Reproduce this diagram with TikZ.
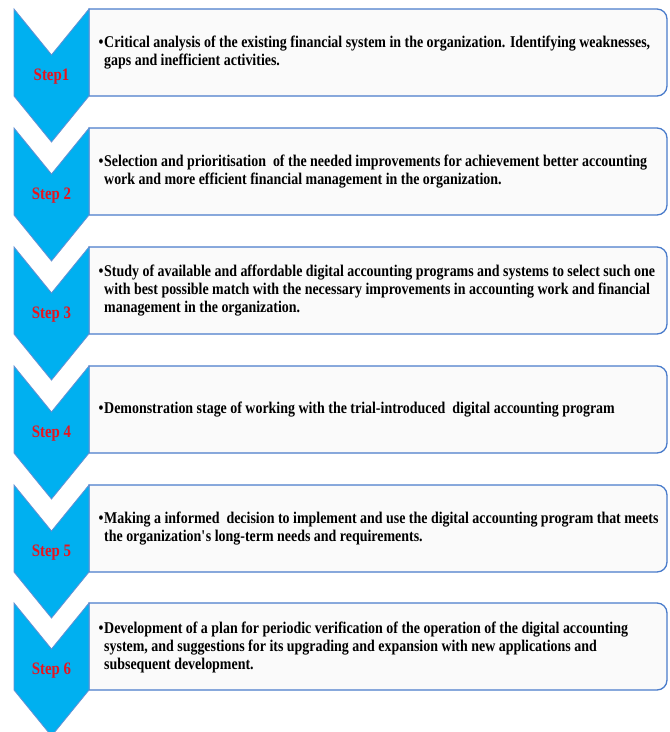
\documentclass[tikz,border=0pt]{standalone}
\usepackage{fontspec}
\setmainfont{Liberation Serif}[FakeStretch=0.85]

\definecolor{chevblue}{HTML}{00B0F0}
\definecolor{edgeblue}{HTML}{4A7CCB}
\definecolor{boxfill}{HTML}{FAFAFA}
\definecolor{stepred}{HTML}{E8141E}

\tikzset{
  stepchevron/.style={fill=chevblue,draw=edgeblue!85,line width=0.8pt,line join=miter},
  stepbox/.style={fill=boxfill,draw=edgeblue,line width=1.3pt},
  steplabel/.style={text=stepred,inner sep=0pt,font=\fontsize{17.5}{18}\selectfont\bfseries},
  steptext/.style={anchor=west,inner sep=0pt,align=left,font=\fontsize{16.4}{18}\selectfont\bfseries}
}
\newcommand{\bul}{\llap{\textbullet\hspace{0.6pt}}}

\begin{document}
\begin{tikzpicture}[x=1pt,y=1pt]
   \useasboundingbox (0,0) rectangle (670,-732);

   \draw[stepbox] (89,-9) -- (89,-96) -- (657,-96) arc(-90:0:10) -- (667,-19) arc(0:90:10) -- cycle;
   \draw[stepchevron] (14,-9) -- (51.5,-55) -- (89,-9) -- (89,-96) -- (51.5,-142) -- (14,-96) -- cycle;

   \draw[stepbox] (89,-128) -- (89,-215) -- (657,-215) arc(-90:0:10) -- (667,-138) arc(0:90:10) -- cycle;
   \draw[stepchevron] (14,-128) -- (51.5,-174) -- (89,-128) -- (89,-215) -- (51.5,-261) -- (14,-215) -- cycle;

   \draw[stepbox] (89,-247) -- (89,-334) -- (657,-334) arc(-90:0:10) -- (667,-257) arc(0:90:10) -- cycle;
   \draw[stepchevron] (14,-247) -- (51.5,-293) -- (89,-247) -- (89,-334) -- (51.5,-380) -- (14,-334) -- cycle;

   \draw[stepbox] (89,-366) -- (89,-453) -- (657,-453) arc(-90:0:10) -- (667,-376) arc(0:90:10) -- cycle;
   \draw[stepchevron] (14,-366) -- (51.5,-412) -- (89,-366) -- (89,-453) -- (51.5,-499) -- (14,-453) -- cycle;

   \draw[stepbox] (89,-485) -- (89,-572) -- (657,-572) arc(-90:0:10) -- (667,-495) arc(0:90:10) -- cycle;
   \draw[stepchevron] (14,-485) -- (51.5,-531) -- (89,-485) -- (89,-572) -- (51.5,-618) -- (14,-572) -- cycle;

   \draw[stepbox] (89,-603) -- (89,-690) -- (657,-690) arc(-90:0:10) -- (667,-613) arc(0:90:10) -- cycle;
   \draw[stepchevron] (14,-603) -- (51.5,-649) -- (89,-603) -- (89,-690) -- (51.5,-736) -- (14,-690) -- cycle;

   \node[steplabel] (s1) at (51.5,-77)  {Step1};
   \node[steplabel] (s2) at (51.5,-196) {Step 2};
   \node[steplabel] (s3) at (51.5,-315) {Step 3};
   \node[steplabel] (s4) at (51.5,-434) {Step 4};
   \node[steplabel] (s5) at (51.5,-553) {Step 5};
   \node[steplabel] (s6) at (51.5,-671) {Step 6};

   \node[steptext] (d1) at (104,-53) {\bul Critical analysis of the existing financial system in the organization. Identifying weaknesses,\\
      gaps and inefficient activities.};
   \node[steptext] (d2) at (104,-172) {\bul Selection and prioritisation \ of the needed improvements for achievement better accounting\\
      work and more efficient financial management in the organization.};
   \node[steptext] (d3) at (104,-291) {\bul Study of available and affordable digital accounting programs and systems to select such one\\
      with best possible match with the necessary improvements in accounting work and financial\\
      management in the organization.};
   \node[steptext] (d4) at (104,-410) {\bul Demonstration stage of working with the trial-introduced \ digital accounting program};
   \node[steptext] (d5) at (104,-529) {\bul Making a informed \ decision to implement and use the digital accounting program that meets\\
      the organization\textquotesingle s long-term needs and requirements.};
   \node[steptext] (d6) at (104,-647) {\bul Development of a plan for periodic verification of the operation of the digital accounting\\
      system, and suggestions for its upgrading and expansion with new applications and\\
      subsequent development.};

\end{tikzpicture}
\end{document}
